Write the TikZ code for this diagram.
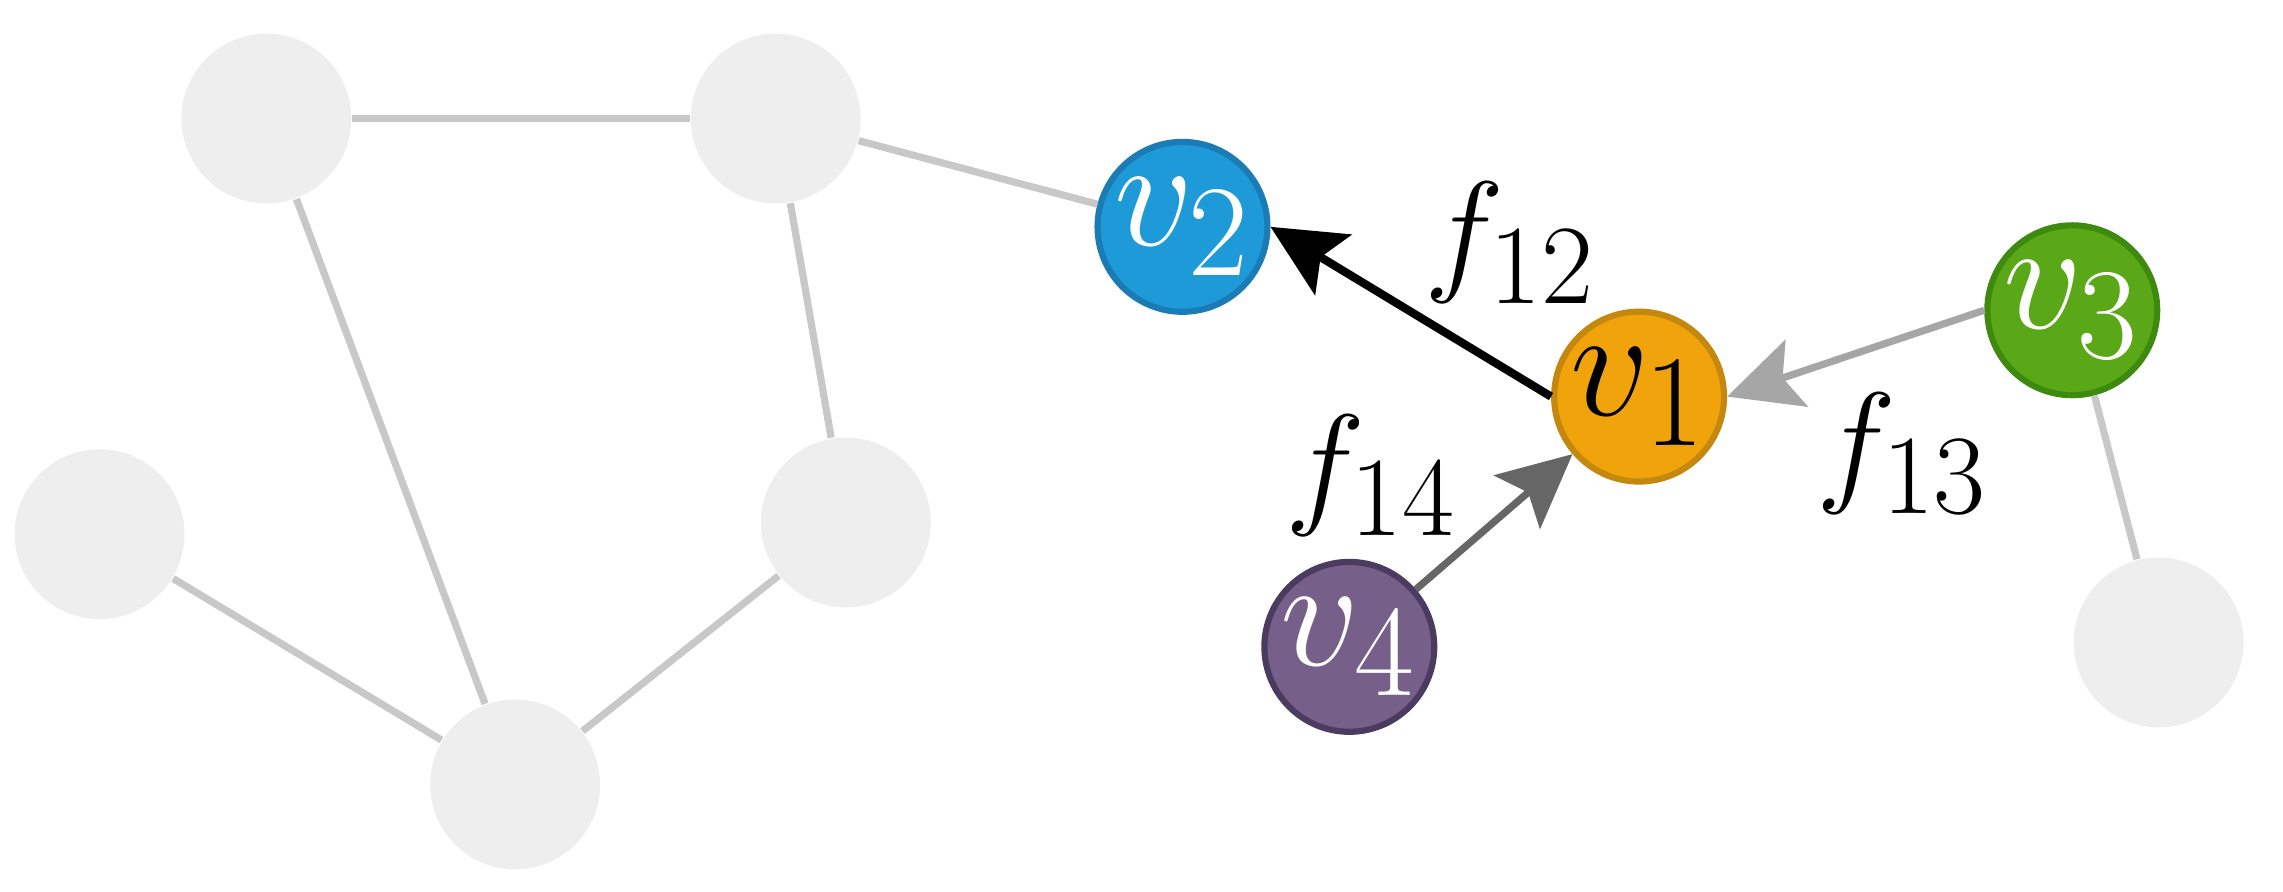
\documentclass[tikz,border=0pt]{standalone}
\usepackage{graphicx}
\usetikzlibrary{arrows.meta}
\definecolor{gnode}{HTML}{EEEEEE}
\definecolor{gedge}{HTML}{C8C8C8}
\definecolor{bluef}{HTML}{1E9AD8}
\definecolor{blued}{HTML}{1A7BB5}
\definecolor{orangef}{HTML}{F0A30A}
\definecolor{oranged}{HTML}{C4880E}
\definecolor{greenf}{HTML}{5AA818}
\definecolor{greend}{HTML}{3D8A0E}
\definecolor{purplef}{HTML}{76608A}
\definecolor{purpled}{HTML}{4C3B60}
\definecolor{arrowlight}{HTML}{A6A6A6}
\definecolor{arrowdark}{HTML}{666666}
\newcommand{\nodetxt}[1]{\scalebox{1.22}{$#1$}}
\newcommand{\labtxt}[1]{\scalebox{1.06}{$#1$}}
\begin{document}
\begin{tikzpicture}[x=0.01cm,y=-0.01cm,
  graynode/.style={circle,fill=gnode,minimum size=1.16cm,inner sep=0pt},
  colnode/.style={circle,minimum size=1.16cm,inner sep=0pt,line width=1.2pt,font=\fontsize{24.88}{30}\selectfont},
  grayedge/.style={gedge,line width=1.4pt},
  flowarrow/.style={line width=1.4pt,-{Stealth[length=0.5cm,width=0.48cm,inset=0.1cm]}},
  flabel/.style={font=\fontsize{24.88}{30}\selectfont,inner sep=1pt}]
\useasboundingbox (0,0) rectangle (1560,609);
% gray nodes
\node[graynode] (A) at (182,81) {};
\node[graynode] (B) at (530,81) {};
\node[graynode] (C) at (68,365) {};
\node[graynode] (D) at (578,357) {};
\node[graynode] (E) at (352,536) {};
\node[graynode] (F) at (1475,439) {};
% colored nodes
\node[colnode,fill=bluef,draw=blued,text=white] (v2) at (808,155) {\nodetxt{v_2}};
\node[colnode,fill=orangef,draw=oranged,text=black] (v1) at (1120,271) {\nodetxt{v_1}};
\node[colnode,fill=greenf,draw=greend,text=white] (v3) at (1416,212) {\nodetxt{v_3}};
\node[colnode,fill=purplef,draw=purpled,text=white] (v4) at (922,442) {\nodetxt{v_4}};
% gray edges
\draw[grayedge] (A) -- (B);
\draw[grayedge] (A) -- (E);
\draw[grayedge] (B) -- (D);
\draw[grayedge] (B) -- (v2);
\draw[grayedge] (C) -- (E);
\draw[grayedge] (D) -- (E);
\draw[grayedge] (v3) -- (F);
% flows
\draw[flowarrow,black,line width=1.6pt] (v1.west) -- (v2.east);
\draw[flowarrow,arrowlight] (v3.west) -- (v1.east);
\draw[flowarrow,arrowdark] (v4) -- (v1);
% labels
\node[flabel] (f12) at (1032,166) {\labtxt{f_{12}}};
\node[flabel] (f14) at (937,325) {\labtxt{f_{14}}};
\node[flabel] (f13) at (1300,310) {\labtxt{f_{13}}};
\end{tikzpicture}
\end{document}
